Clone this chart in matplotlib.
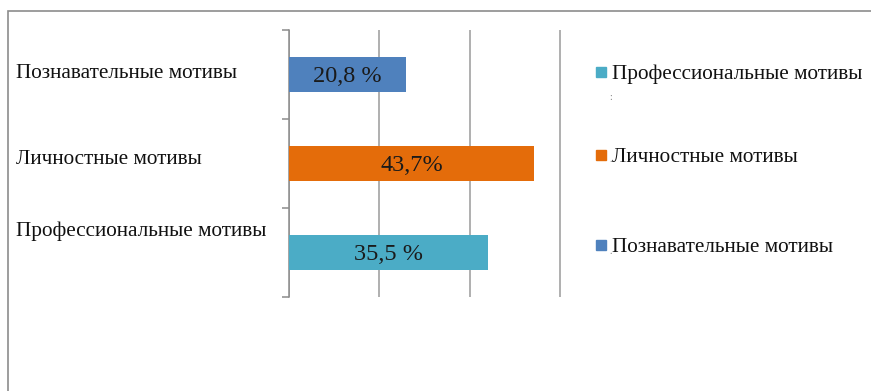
import matplotlib.pyplot as plt
from matplotlib.patches import Rectangle

# motive categories, top to bottom on the chart
categories = ['Познавательные мотивы', 'Личностные мотивы', 'Профессиональные мотивы']
shares = [20.8, 43.7, 35.5]
share_labels = ['20,8 %', '43,7%', '35,5 %']
colors = ['#4F81BD', '#E46C0A', '#4BACC6']

# legend goes in reverse order
legend_names = ['Профессиональные мотивы', 'Личностные мотивы', 'Познавательные мотивы']
legend_colors = ['#4BACC6', '#E46C0A', '#4F81BD']

plt.rcParams['font.family'] = ['Liberation Serif', 'DejaVu Serif']

W, H = 871, 391
fig = plt.figure(figsize=(W / 100, H / 100), dpi=100)

def fx(px):
    return px / W

def fy(py):
    return 1 - py / H

# outer frame of the chart area
fig.patches.append(Rectangle((fx(8), fy(395)), fx(870), fy(11) - fy(395),
                             transform=fig.transFigure, fill=False,
                             edgecolor='#8C8C8C', linewidth=1.2))

ax = fig.add_axes([fx(289), fy(297), fx(561) - fx(289), fy(30) - fy(297)])
ypos = list(range(len(categories)))
ax.barh(ypos, shares, height=0.39, color=colors, zorder=3)
ax.set_ylim(2.5, -0.5)
ax.set_xlim(0, 48.5)

for y, v, lab in zip(ypos, shares, share_labels):
    ax.text(v / 2, y + 0.02, lab, ha='center', va='center', fontsize=17.5,
            color='#1a1a1a', zorder=4)

ax.set_xticks([0, 16.1, 32.2, 48.3])
ax.xaxis.grid(True, color='#9A9A9A', linewidth=1.1)
ax.tick_params(axis='x', length=0, labelbottom=False)
ax.set_yticks([-0.5, 0.5, 1.5, 2.5])
ax.tick_params(axis='y', length=5, width=1.1, color='#8C8C8C', labelleft=False)
for side in ['top', 'right', 'bottom']:
    ax.spines[side].set_visible(False)
ax.spines['left'].set_color('#8C8C8C')
ax.spines['left'].set_linewidth(1.1)

# category names on the left
for name, py in zip(categories, [74, 160, 231]):
    fig.text(fx(16), fy(py), name, ha='left', va='center', fontsize=15.3, color='#111111')

# legend
for name, c, py in zip(legend_names, legend_colors, [74, 157, 247]):
    fig.patches.append(Rectangle((fx(596), fy(py + 3)), fx(10), fy(0) - fy(10),
                                 transform=fig.transFigure, color=c))
    fig.text(fx(612), fy(py), name, ha='left', va='center', fontsize=15.3, color='#111111')

# small stray marks under the legend keys
for mark, py in zip([':', '.', '.'], [98, 160, 252]):
    fig.text(fx(611), fy(py), mark, ha='center', va='center', fontsize=7, color='#777777')

fig.savefig('out.png', dpi=100, facecolor='white')
